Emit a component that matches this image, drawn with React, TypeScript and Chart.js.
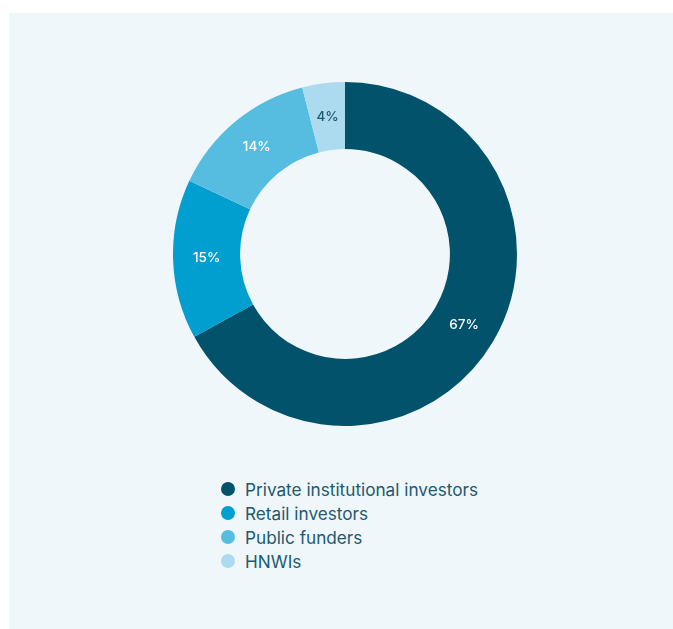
import React, { useEffect, useRef } from "react";
import { Chart, registerables } from "chart.js";

Chart.register(...registerables);

const categories = ["Private institutional investors", "Retail investors", "Public funders", "HNWIs"];
const shares = [67, 15, 14, 4];
const colors = ["#02526b", "#009fcf", "#56bde0", "#acdaee"];
const labelColors = ["#ffffff", "#ffffff", "#ffffff", "#1d5a70"];

const FONT = "Inter, 'DejaVu Sans', sans-serif";

const arcLabels = {
  id: "arcLabels",
  afterDatasetsDraw(chart: any) {
    const ctx = chart.ctx;
    const meta = chart.getDatasetMeta(0);
    ctx.save();
    ctx.font = `500 13.5px ${FONT}`;
    ctx.textAlign = "center";
    ctx.textBaseline = "middle";
    meta.data.forEach((arc: any, i: number) => {
      const p = arc.tooltipPosition();
      ctx.fillStyle = labelColors[i];
      ctx.fillText(`${shares[i]}%`, p.x, p.y);
    });
    ctx.restore();
  },
};

export default function App() {
  const ref = useRef<HTMLCanvasElement>(null);
  useEffect(() => {
    if (!ref.current) return;
    const chart = new Chart(ref.current, {
      type: "doughnut",
      data: {
        labels: categories,
        datasets: [
          {
            data: shares,
            backgroundColor: colors,
            borderWidth: 0,
            hoverOffset: 0,
          },
        ],
      },
      options: {
        animation: false,
        responsive: false,
        maintainAspectRatio: false,
        cutout: "61%",
        layout: { padding: 0 },
        plugins: {
          legend: { display: false },
          tooltip: { enabled: false },
        },
      },
      plugins: [arcLabels],
    });
    return () => chart.destroy();
  }, []);

  return (
    <div style={{ position: "fixed", left: 0, top: 0, width: 673, height: 629, overflow: "hidden", background: "#ffffff" }}>
      <div
        style={{
          position: "absolute",
          left: 9,
          top: 13,
          width: 664,
          height: 616,
          background: "#eff7fb",
        }}
      />
      <canvas
        ref={ref}
        width={344}
        height={344}
        style={{ position: "absolute", left: 173, top: 82, width: 344, height: 344 }}
      />
      <div
        style={{
          position: "absolute",
          left: 221,
          top: 477,
          fontFamily: FONT,
          fontSize: 17.2,
          color: "#1d5a70",
        }}
      >
        {categories.map((c, i) => (
          <div key={c} style={{ display: "flex", alignItems: "center", height: 24 }}>
            <span
              style={{
                display: "inline-block",
                width: 14,
                height: 14,
                borderRadius: 7,
                background: colors[i],
                marginRight: 10,
              }}
            />
            <span>{c}</span>
          </div>
        ))}
      </div>
    </div>
  );
}
